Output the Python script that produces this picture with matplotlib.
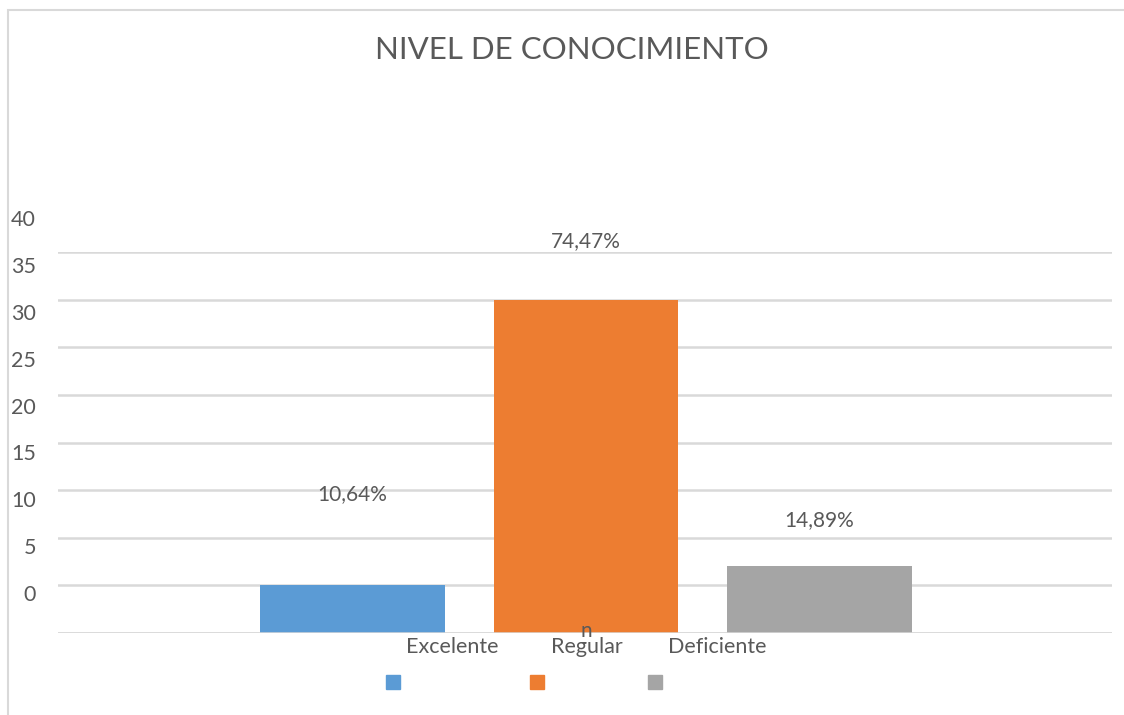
import matplotlib.pyplot as plt
from matplotlib.patches import Rectangle
from matplotlib.transforms import blended_transform_factory

# Data
categories = ["Excelente", "Regular", "Deficiente"]
counts = [5, 35, 7]
pct_labels = ["10,64%", "74,47%", "14,89%"]
colors = ["#5b9bd5", "#ed7d31", "#a5a5a5"]
yticks = [0, 5, 10, 15, 20, 25, 30, 35, 40]

TEXT = "#595959"
GRID = "#d9d9d9"
FONT = ["Lato", "DejaVu Sans"]

W, H = 1124, 715
fig = plt.figure(figsize=(W / 100, H / 100), dpi=100)
plt.rcParams['font.family'] = FONT

# outer chart frame (cut off at right/bottom like the screenshot)
fig.patches.append(Rectangle((8 / W, -0.05), 1.2, 1 - 10 / H + 0.05,
                             transform=fig.transFigure, fill=False,
                             edgecolor=GRID, linewidth=1.5))

ax = fig.add_axes([58 / W, 1 - 633 / H, 1054 / W, 381 / H])
x = list(range(len(categories)))
ax.bar(x, counts, width=0.79, color=colors, zorder=2)
ax.set_xlim(-1.261, 3.253)
ax.set_ylim(0, 40)

ax.set_yticks(yticks)
ax.set_yticklabels([])
ax.set_xticks([])
ax.tick_params(length=0)
ax.grid(axis='y', color=GRID, linewidth=1.8, zorder=0)
for s in ax.spines.values():
    s.set_visible(False)
ax.axhline(0, color=GRID, linewidth=1.8, zorder=3)

# y tick labels, drawn slightly off the gridlines like the original
ylab = blended_transform_factory(fig.transFigure, ax.transData)
for v in yticks:
    ax.text(36 / W, 4.0 + 0.983 * v, str(v), transform=ylab, ha='right',
            va='center', fontsize=15.5, color=TEXT, clip_on=False)

# percentage labels
label_offsets = [9.6, 6.1, 4.9]
for xi, c, lab, off in zip(x, counts, pct_labels, label_offsets):
    ax.text(xi, c + off, lab, ha='center', va='center', fontsize=15,
            color=TEXT, clip_on=False)

# category labels (squeezed toward the centre in the original)
cat_pos = [0.426, 1.004, 1.561]
for xp, cat in zip(cat_pos, categories):
    ax.text(xp, -1.45, cat, ha='center', va='center', fontsize=15.5,
            color=TEXT, clip_on=False)
ax.text(1.0, 0.25, "n", ha='center', va='center', fontsize=15, color=TEXT,
        clip_on=False, zorder=4)

# legend squares without text
for px, col in zip([386, 530, 648], colors):
    fig.patches.append(Rectangle((px / W, 1 - 689 / H), 14 / W, 14 / H,
                                 transform=fig.transFigure, color=col))

fig.text(572 / W, 1 - 50 / H, "NIVEL DE CONOCIMIENTO", ha='center',
         va='center', fontsize=22.5, color=TEXT)

fig.savefig("out.png", dpi=100)
